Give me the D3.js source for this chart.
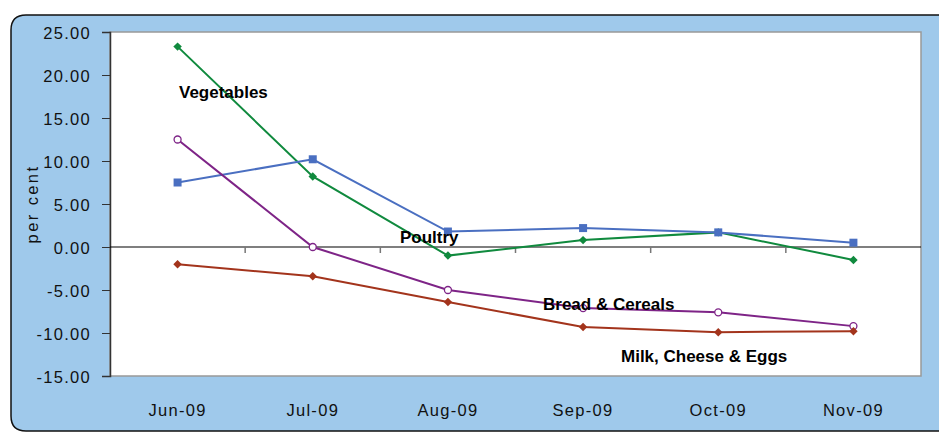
<!DOCTYPE html>
<html>
<head>
<meta charset="utf-8">
<script src="https://cdn.jsdelivr.net/npm/d3@7"></script>
<style>
  body { margin: 0; background: #fff; }
  svg { display: block; font-family: "Liberation Sans", Arial, sans-serif; }
</style>
</head>
<body>
<div id="chart"></div>
<script>
// data
const months = ["Jun-09", "Jul-09", "Aug-09", "Sep-09", "Oct-09", "Nov-09"];
const vegetables = [23.3, 8.2, -1.0, 0.8, 1.7, -1.5];
const poultry = [7.5, 10.2, 1.8, 2.2, 1.7, 0.5];
const breadCereals = [12.5, 0.0, -5.0, -7.1, -7.6, -9.2];
const milkCheeseEggs = [-2.0, -3.4, -6.4, -9.3, -9.9, -9.8];
const yTicks = [25, 20, 15, 10, 5, 0, -5, -10, -15];

const width = 939, height = 433;
const margin = { top: 32, right: 18, bottom: 57, left: 110 };

const svg = d3.select("#chart").append("svg")
  .attr("width", width)
  .attr("height", height);

// blue frame with rounded left corners
svg.append("path")
  .attr("d", "M950,15 L26,15 Q11,15 11,30 L11,416 Q11,431 26,431 L950,431")
  .attr("fill", "#9fc9eb")
  .attr("stroke", "#111")
  .attr("stroke-width", 1.5);

const x = d3.scaleBand()
  .domain(months)
  .range([margin.left, width - margin.right]);

const y = d3.scaleLinear()
  .domain([-15, 25])
  .range([height - margin.bottom, margin.top]);

// plot area
svg.append("rect")
  .attr("x", margin.left)
  .attr("y", margin.top)
  .attr("width", x.range()[1] - margin.left)
  .attr("height", y(-15) - margin.top)
  .attr("fill", "#fff")
  .attr("stroke", "#999")
  .attr("stroke-width", 1.5);

// y axis
const fmt = d3.format(".2f");
const yAxis = svg.append("g")
  .attr("transform", `translate(${margin.left},0)`)
  .call(d3.axisLeft(y).tickValues(yTicks)
    .tickFormat(d => fmt(d).replace("\u2212", "-"))
    .tickSize(8).tickPadding(11));
yAxis.attr("font-family", null);
yAxis.select(".domain").attr("stroke", "#333").attr("stroke-width", 1.5);
yAxis.selectAll(".tick line").attr("stroke", "#333");
yAxis.selectAll("text")
  .attr("font-size", 16.5)
  .attr("letter-spacing", 1.3)
  .attr("dy", "0.4em")
  .attr("fill", "#111");

svg.append("text")
  .attr("transform", `translate(38,204) rotate(-90)`)
  .attr("text-anchor", "middle")
  .attr("font-size", 16.5)
  .attr("letter-spacing", 2.4)
  .attr("fill", "#111")
  .text("per cent");

// zero line with category ticks
svg.append("line")
  .attr("x1", margin.left).attr("x2", x.range()[1])
  .attr("y1", y(0)).attr("y2", y(0))
  .attr("stroke", "#000").attr("stroke-width", 1.2);

svg.append("g").selectAll("line")
  .data(months.slice(1))
  .join("line")
  .attr("x1", d => x(d)).attr("x2", d => x(d))
  .attr("y1", y(0)).attr("y2", y(0) + 6)
  .attr("stroke", "#777").attr("stroke-width", 1.5);

// x labels
svg.append("g").selectAll("text")
  .data(months)
  .join("text")
  .attr("x", d => x(d) + x.bandwidth() / 2)
  .attr("y", 416)
  .attr("text-anchor", "middle")
  .attr("font-size", 16.5)
  .attr("letter-spacing", 1.3)
  .attr("fill", "#111")
  .text(d => d);

const series = [
  { name: "Vegetables", values: vegetables, color: "#108a3e", marker: "diamond" },
  { name: "Poultry", values: poultry, color: "#4a6fc1", marker: "square" },
  { name: "Bread & Cereals", values: breadCereals, color: "#7e2487", marker: "circle" },
  { name: "Milk, Cheese & Eggs", values: milkCheeseEggs, color: "#a3341c", marker: "diamond" }
];

const line = d3.line()
  .x((d, i) => x(months[i]) + x.bandwidth() / 2)
  .y(d => y(d));

series.forEach(s => {
  const g = svg.append("g");
  g.append("path")
    .attr("d", line(s.values))
    .attr("fill", "none")
    .attr("stroke", s.color)
    .attr("stroke-width", 2);

  const pts = g.selectAll(".pt")
    .data(s.values)
    .join("g")
    .attr("transform", (d, i) => `translate(${x(months[i]) + x.bandwidth() / 2},${y(d)})`);

  if (s.marker === "square") {
    pts.append("rect").attr("x", -4).attr("y", -4).attr("width", 8).attr("height", 8)
      .attr("fill", s.color);
  } else if (s.marker === "circle") {
    pts.append("circle").attr("r", 3.5)
      .attr("fill", "#fff").attr("stroke", s.color).attr("stroke-width", 1.3);
  } else {
    pts.append("rect").attr("x", -3).attr("y", -3).attr("width", 6).attr("height", 6)
      .attr("transform", "rotate(45)")
      .attr("fill", s.color);
  }
});

// series labels
const labels = [
  { text: "Vegetables", x: 179, y: 98 },
  { text: "Poultry", x: 400, y: 243 },
  { text: "Bread & Cereals", x: 543, y: 310 },
  { text: "Milk, Cheese & Eggs", x: 621, y: 362 }
];
svg.append("g").selectAll("text")
  .data(labels)
  .join("text")
  .attr("x", d => d.x)
  .attr("y", d => d.y)
  .attr("font-size", 17)
  .attr("font-weight", "bold")
  .attr("fill", "#000")
  .text(d => d.text);
</script>
</body>
</html>
